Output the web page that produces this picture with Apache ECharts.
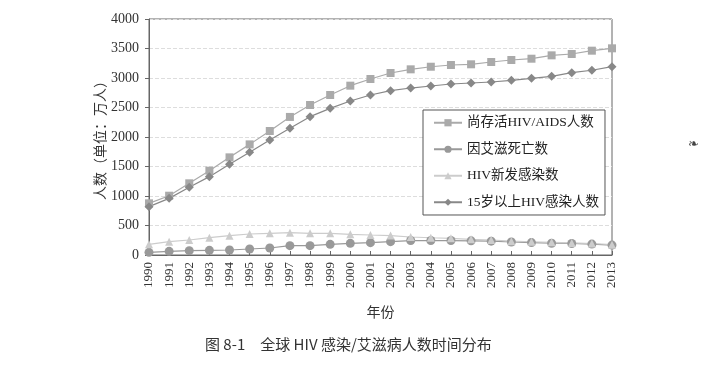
<!DOCTYPE html>
<html><head><meta charset="utf-8">
<script src="https://cdn.jsdelivr.net/npm/echarts@6/dist/echarts.min.js"></script>
<style>html,body{margin:0;padding:0;background:#fff}#c{width:722px;height:370px}</style>
</head><body><div id="c"></div>
<script>
const years = ['1990','1991','1992','1993','1994','1995','1996','1997','1998','1999','2000','2001','2002','2003','2004','2005','2006','2007','2008','2009','2010','2011','2012','2013'];
const living = [876,1005,1215,1429,1655,1875,2102,2340,2542,2712,2870,2983,3085,3147,3191,3220,3232,3271,3305,3327,3384,3407,3463,3503];
const deaths = [45,62,73,79,85,102,119,158,158,181,198,209,226,245,245,245,240,235,220,210,200,195,185,168];
const newInf = [181,226,254,294,328,356,367,378,367,367,350,339,330,305,292,283,266,254,235,225,215,205,195,175];
const adults = [819,960,1147,1328,1537,1740,1949,2147,2345,2486,2610,2712,2785,2830,2864,2898,2915,2932,2961,2995,3029,3090,3131,3192];
const yTicks = {min:0, max:4000, interval:500};

const serif = '"Liberation Serif","Noto Sans CJK SC",serif';
const chart = echarts.init(document.getElementById('c'));
function s(name, data, symbol, color, size){
  return {name, type:'line', data, symbol, symbolSize:size, showSymbol:true,
    lineStyle:{color, width:1.2}, itemStyle:{color}, animation:false};
}
chart.setOption({
  animation:false,
  backgroundColor:'#fff',
  title:{text:'图 8-1　全球 HIV 感染/艾滋病人数时间分布', left:200, top:332,
    textStyle:{fontSize:15, fontWeight:'normal', color:'#333', fontFamily:'"Noto Sans CJK SC",sans-serif'}},
  grid:{left:149, right:110, top:19, bottom:115, show:true, borderColor:'#666', borderWidth:1},
  legend:{orient:'vertical', left:423, top:110, itemWidth:28, itemHeight:9, itemGap:13,
    padding:[6,6,6,10], borderColor:'#555', borderWidth:1, backgroundColor:'#fff',
    textStyle:{fontSize:13.5, color:'#222', fontFamily:serif},
    data:['尚存活HIV/AIDS人数','因艾滋死亡数','HIV新发感染数','15岁以上HIV感染人数']},
  xAxis:{type:'category', data:years, boundaryGap:false,
    name:'年份', nameLocation:'middle', nameGap:51, nameMoveOverlap:false,
    nameTextStyle:{fontSize:14, color:'#333', fontFamily:serif},
    axisLine:{lineStyle:{color:'#666'}},
    axisTick:{inside:true, length:4, lineStyle:{color:'#666'}},
    axisLabel:{rotate:90, fontSize:13, color:'#333', fontFamily:serif, margin:7}},
  yAxis:{type:'value', min:yTicks.min, max:yTicks.max, interval:yTicks.interval,
    name:'人数（单位：万人）', nameLocation:'middle', nameGap:41, nameMoveOverlap:false,
    nameTextStyle:{fontSize:14, color:'#333', fontFamily:serif},
    axisLine:{show:true, lineStyle:{color:'#666'}},
    axisTick:{show:true, length:4, lineStyle:{color:'#666'}},
    axisLabel:{fontSize:14, color:'#333', fontFamily:serif, margin:10, formatter:v=>String(v)},
    splitLine:{lineStyle:{color:'#ddd', type:'dashed'}}},
  graphic:[{type:'text', left:688, top:138, style:{text:'❧', fontSize:13, fill:'#444'}}],
  series:[
    s('尚存活HIV/AIDS人数', living, 'rect', '#aaa', 8),
    s('因艾滋死亡数', deaths, 'circle', '#999', 9),
    s('HIV新发感染数', newInf, 'triangle', '#ccc', 8),
    s('15岁以上HIV感染人数', adults, 'diamond', '#888', 9)
  ]
});
</script></body></html>
